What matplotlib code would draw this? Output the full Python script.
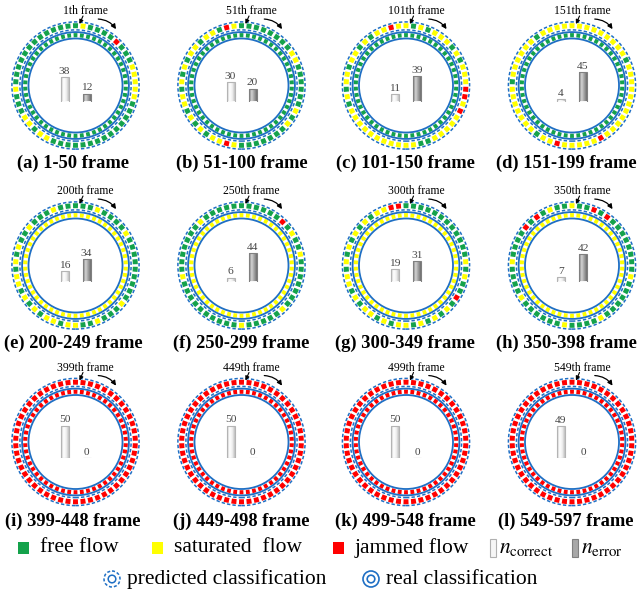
import numpy as np
import matplotlib
matplotlib.use('Agg')
from matplotlib import pyplot as plt
from matplotlib.patches import Wedge, Circle, Rectangle, FancyArrowPatch
from matplotlib.colors import LinearSegmentedColormap

plt.rcParams['font.family'] = 'serif'
plt.rcParams['font.serif'] = ['Liberation Serif', 'DejaVu Serif']
plt.rcParams['mathtext.fontset'] = 'stix'

#-------------------------------------
# Data
#-------------------------------------
letters     = ['a', 'b', 'c', 'd', 'e', 'f', 'g', 'h', 'i', 'j', 'k', 'l']
first_frame = [1, 51, 101, 151, 200, 250, 300, 350, 399, 449, 499, 549]
last_frame  = [50, 100, 150, 199, 249, 299, 349, 398, 448, 498, 548, 597]
n_correct   = [38, 30, 11, 4, 16, 6, 19, 7, 50, 50, 50, 49]
n_error     = [12, 20, 39, 45, 34, 44, 31, 42, 0, 0, 0, 0]

# real class of every frame in a block (G free, Y saturated, R jammed)
real_state = ['G', 'G', 'G', 'G', 'Y', 'Y', 'Y', 'Y', 'R', 'R', 'R', 'R']

# predicted class, frame by frame, clockwise from the top
pred_state = [
  'GYGGGGRGGGYYYYYGGGGGGGGGGGGGGYYGYYGGGYGGGGGGGGGGGG',
  'GGGGGGGGYYGGGGGGYGYGGGGGGGYRYYGYGYGYYGYGYGYYGYYGRY',
  'YGYGYYYGYGYYYRRYRYYYYYGGYYYYYYYYYYYGYGYYGYYGYGYYRY',
  'YYYYYYYYYGYYYYYYYYYYYRYYYYYRYYGYYYYYYYGYYYYYYGYYYY',
  'GGGYGGGGYGGGGGGGGGYGGGYGGYYGYYGYGYGYYGYGYGGYGGGYGG',
  'GGGGGGRGYGGYGGGGGGGYGGGGGYGGGGGGGGGGYGGGGGGGYGGGGG',
  'GGGGGGGGGGGGYGYGGRGYGYGYGYYGYGYYGYGYYGYGYGYGYGYYRR',
  'YGGRGRGGGGGGGGYGGGGGGYGGGGYGGGGGGYGGGGYGGGGRGRGYGG',
  'RRRRRRRRRRRRRRRRRRRRRRRRRRRRRRRRRRRRRRRRRRRRRRRRRR',
  'RRRRRRRRRRRRRRRRRRRRRRRRRRRRRRRRRRRRRRRRRRRRRRRRRR',
  'RRRRRRRRRRRRRRRRRRRRRRRRRRRRRRRRRRRRRRRRRRRRRRRRRR',
  'RRRRRRRRRRRRRRRRRRRRRRRRRRRRRRRRRRRRRRRRRRRRRRRRRR',
]

#-------------------------------------
# Colours and geometry (pixels)
#-------------------------------------
flowColor = {'G': '#14a24b', 'Y': '#ffff00', 'R': '#ff0000'}
ringBlue  = '#1f6fc4'

W, H = 639, 593
colX = [75.5, 241.5, 406, 572]
capX = [73, 241.5, 405, 566]
rowY = [85.5, 265.5, 442]
capY = [163, 343, 521]
half = 80

fig = plt.figure(figsize=(W / 100., H / 100.), dpi=100)

def draw_ring(ax, states, r_in, r_out, frac):
  step = 360. / len(states)
  for k, s in enumerate(states):
    mid = 90. - k * step
    ax.add_patch(Wedge((0, 0), r_out, mid - frac * step / 2, mid + frac * step / 2,
                       width=r_out - r_in, facecolor=flowColor[s], lw=0))

corCmap = LinearSegmentedColormap.from_list('cor', ['#c8c8c8', '#ffffff', '#f0f0f0', '#c0c0c0'])
errCmap = LinearSegmentedColormap.from_list('err', ['#7a7a7a', '#d4d4d4', '#a0a0a0', '#6e6e6e'])
grad = np.linspace(0, 1, 64).reshape(1, -1)

def shade_bar(ax, rect, cmap):
  x0, y0 = rect.get_x(), rect.get_y()
  w, h = rect.get_width(), rect.get_height()
  if h <= 0:
    return
  im = ax.imshow(grad, cmap=cmap, extent=[x0, x0 + w, y0, y0 + h], aspect='auto', zorder=2)
  im.set_clip_path(rect)

for i in range(12):
  col, row = i % 4, i // 4
  cx, cy = colX[col], rowY[row]
  ax = fig.add_axes([(cx - half) / W, 1 - (cy + half) / H, 2 * half / W, 2 * half / H])
  ax.set_xlim(-half, half)
  ax.set_ylim(-half, half)
  ax.axis('off')

  # predicted classification (outer, dashed)
  draw_ring(ax, pred_state[i], 57.3, 62.3, 0.66)
  for r in [63.6, 55.6]:
    ax.add_patch(Circle((0, 0), r, fill=False, ec=ringBlue, lw=1.1, ls=(0, (2.2, 1.4))))
  # real classification (inner, solid)
  draw_ring(ax, real_state[i] * len(pred_state[i]), 48.2, 52.4, 0.6)
  for r in [53.4, 47.0]:
    ax.add_patch(Circle((0, 0), r, fill=False, ec=ringBlue, lw=1.3))

  # frame marker and direction
  ax.text(10, 74, '%dth frame' % first_frame[i], ha='center', va='center', fontsize=8.4, clip_on=False)
  ax.annotate('', xy=(4, 61.5), xytext=(7.5, 69.5),
              arrowprops=dict(arrowstyle='-|>', lw=0.8, color='k', mutation_scale=6, shrinkA=0, shrinkB=0))
  ax.add_patch(FancyArrowPatch((20, 66.5), (42, 54), connectionstyle='arc3,rad=-0.3',
                               arrowstyle='-|>', mutation_scale=7, lw=0.9, color='k'))

  # counts
  bax = ax.inset_axes([-20, -16, 40, 39], transform=ax.transData)
  bax.set_xlim(-20, 20)
  bax.set_ylim(0, 60)
  bax.axis('off')
  bars = bax.bar([-11, 11], [n_correct[i], n_error[i]], width=8,
                 color=['#fafafa', '#a8a8a8'], edgecolor=['#b4b4b4', '#808080'], lw=0.8, zorder=3)
  bars[0].set_facecolor('none')
  bars[1].set_facecolor('none')
  shade_bar(bax, bars[0], corCmap)
  shade_bar(bax, bars[1], errCmap)
  for x, v in zip([-11, 11], [n_correct[i], n_error[i]]):
    bax.text(x, v + 2, str(v), ha='center', va='bottom', fontsize=8.2, color='#444444', clip_on=False)

  fig.text(capX[col] / W, 1 - capY[row] / H, '(%s) %d-%d frame' % (letters[i], first_frame[i], last_frame[i]),
           ha='center', va='center', fontsize=13.3, fontweight='bold')

#-------------------------------------
# Legend
#-------------------------------------
lg = fig.add_axes([0, 0, 1, 1], zorder=-1)
lg.set_xlim(0, W)
lg.set_ylim(H, 0)
lg.axis('off')

legY1, legY2 = 548, 579
for x, c, lab in [(18, 'G', 'free flow'), (152, 'Y', 'saturated  flow'), (333, 'R', 'jammed flow')]:
  lg.add_patch(Rectangle((x, legY1 - 6), 11, 12, facecolor=flowColor[c], lw=0))
  lg.text(x + 22, legY1, lab, va='center', fontsize=15.5)

lg.add_patch(Rectangle((490, legY1 - 9), 6, 18, facecolor='#f6f6f6', edgecolor='#b0b0b0', lw=0.8))
lg.text(499, legY1 + 1, r'$n_{\mathrm{correct}}$', va='center', fontsize=15.5)
lg.add_patch(Rectangle((572, legY1 - 9), 6, 18, facecolor='#a8a8a8', edgecolor='#808080', lw=0.8))
lg.text(581, legY1 + 1, r'$n_{\mathrm{error}}$', va='center', fontsize=15.5)

lg.add_patch(Circle((112, legY2), 8, fill=False, ec=ringBlue, lw=1.1, ls=(0, (2, 1.3))))
lg.add_patch(Circle((112, legY2), 3.8, fill=False, ec=ringBlue, lw=1.1))
lg.text(127, legY2, 'predicted classification', va='center', fontsize=15.5)
lg.add_patch(Circle((371, legY2), 8, fill=False, ec=ringBlue, lw=1.2))
lg.add_patch(Circle((371, legY2), 3.8, fill=False, ec=ringBlue, lw=1.2))
lg.text(386, legY2, 'real classification', va='center', fontsize=15.5)

plt.savefig('out.png', dpi=100)
